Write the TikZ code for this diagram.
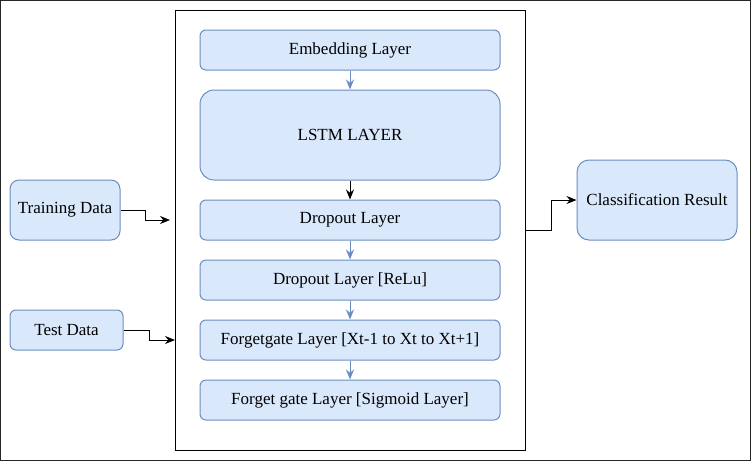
\documentclass[tikz,border=0pt]{standalone}
\usepackage{fontspec}
\setmainfont{Liberation Serif}
\usetikzlibrary{arrows.meta}

\definecolor{layerfill}{HTML}{DAE8FC}
\definecolor{layerline}{HTML}{6C8EBF}

\begin{document}
\begin{tikzpicture}[x=1pt, y=-1pt,
  font=\fontsize{17}{20}\selectfont,
  layer/.style={draw=layerline, fill=layerfill, line width=1pt, rounded corners=6pt,
    minimum width=300pt, minimum height=40pt, inner sep=0pt},
  datain/.style={layer, rounded corners=9pt, minimum height=60pt},
  flow/.style={-{Stealth[length=10pt,width=8pt]}, line width=1pt},
  blueflow/.style={flow, draw=layerline, -{Stealth[length=10pt,width=8pt,fill=layerline]}}]
  \useasboundingbox (0,0) rectangle (751,461);
  \draw[line width=1pt, black!85] (0.5,0.5) rectangle (750.5,460.5);
  % model container
  \node [draw, line width=1pt, minimum width=350pt, minimum height=440pt, inner sep=0pt] (model) at (350,230) {};
  \node [layer] (embed) at (350,50) {Embedding Layer};
  \node [layer, minimum height=90pt, rounded corners=14pt] (lstm) at (350,135) {LSTM LAYER};
  \node [layer] (drop) at (350,220) {Dropout Layer};
  \node [layer] (relu) at (350,280) {Dropout Layer [ReLu]};
  \node [layer] (forget) at (350,340) {Forgetgate Layer [Xt-1 to Xt to Xt+1]};
  \node [layer] (sigm) at (350,400) {Forget gate Layer [Sigmoid Layer]};
  % inputs and output
  \node [datain, minimum width=110pt] (train) at (65,210) {Training Data};
  \node [datain, minimum width=113pt, minimum height=40pt, rounded corners=6pt] (test) at (66.5,330) {Test Data};
  \node [datain, minimum width=160pt, minimum height=80pt, rounded corners=12pt] (result) at (657,200) {Classification Result};
  \coordinate (trainin) at (170,220);
  \coordinate (testin) at (175,340);
  \coordinate (modelout) at (525,230);
  % connectors
  \draw [blueflow] (embed.south) -- (lstm.north);
  \draw [flow] (lstm.south) -- (drop.north);
  \draw [blueflow] (drop.south) -- (relu.north);
  \draw [blueflow] (relu.south) -- (forget.north);
  \draw [blueflow] (forget.south) -- (sigm.north);
  \draw [flow] (train.east) -- ++(25,0) |- (trainin);
  \draw [flow] (test.east) -- ++(26,0) |- (testin);
  \draw [flow] (modelout) -- ++(26,0) |- (result.west);
\end{tikzpicture}
\end{document}
